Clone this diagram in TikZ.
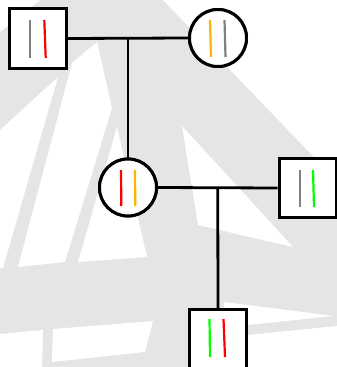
\documentclass[tikz,border=0pt]{standalone}
\usetikzlibrary{calc}
\definecolor{bggray}{HTML}{E5E5E5}
\definecolor{allred}{HTML}{FF0000}
\definecolor{allorange}{HTML}{FFB400}
\definecolor{allgray}{HTML}{808080}
\definecolor{allgreen}{HTML}{00FF00}
\begin{document}
\begin{tikzpicture}[x=1pt,y=-1pt,
  male/.style={draw=black,line width=3pt,fill=white,minimum width=57pt,minimum height=59.5pt,inner sep=0pt},
  female/.style={circle,draw=black,line width=3pt,fill=white,minimum size=57pt,inner sep=0pt},
  link/.style={draw=black,line width=2.8pt},
  allele/.style={line width=2.2pt}]
\useasboundingbox (0,0) rectangle (337,367);
\clip (0,0) rectangle (337,367);
% background watermark
\fill[bggray] (0,0) rectangle (337,367);
\fill[white] (0,0) -- (40,0) -- (0,32) -- cycle;
\fill[white] (163,0) -- (337,0) -- (337,181) -- cycle;
\fill[white] (0,130) -- (58,77) -- (3,268) -- (0,268) -- cycle;
\fill[white] (72,63) -- (97,42) -- (112,108) -- (65,262) -- (18,267) -- cycle;
\fill[white] (117,127) -- (147,257) -- (78,262) -- cycle;
\fill[white] (182,126) -- (293,247) -- (198,225) -- cycle;
\fill[white] (224,302) -- (334,316) -- (247,325) -- (224,327) -- cycle;
\fill[white] (247,335) -- (337,326) -- (337,367) -- (247,367) -- cycle;
\fill[white] (0,334) -- (43,330) -- (42,367) -- (0,367) -- cycle;
\fill[white] (53,329) -- (153,321) -- (145,352) -- (52,362) -- cycle;
% nodes
\node[male] (gf) at (38,38.5) {};
\node[female] (gm) at (218,38) {};
\node[female] (mo) at (128,187.5) {};
\node[male] (fa) at (307.5,188) {};
\node[male] (ch) at (218,339) {};
% connectors
\coordinate (j1) at ($(gf.east)!0.5!(gm.west)$);
\coordinate (j2) at ($(mo.east)!0.5!(fa.west)$);
\draw[link] (gf.east) -- (gm.west);
\draw[link] (j1) -- (mo.north);
\draw[link] (mo.east) -- (fa.west);
\draw[link] (j2) -- (ch.north);
% redraw node borders on top
\node[male] at (gf) {};
\node[female] at (gm) {};
\node[female] at (mo) {};
\node[male] at (fa) {};
\node[male] at (ch) {};
% alleles
\draw[allele,allgray] (30,20) -- (30,58);
\draw[allele,allred] (44.3,20) -- (45.7,58);
\draw[allele,allorange] (210,20) -- (211,57);
\draw[allele,allgray] (224.5,20) -- (225.5,57);
\draw[allele,allred] (121,170) -- (121.3,206);
\draw[allele,allorange] (135,170) -- (135.3,206);
\draw[allele,allgray] (300,170) -- (300,207);
\draw[allele,allgreen] (313,170) -- (314,207);
\draw[allele,allgreen] (209.5,319) -- (210,357);
\draw[allele,allred] (223.5,319) -- (225,357);
\end{tikzpicture}
\end{document}
